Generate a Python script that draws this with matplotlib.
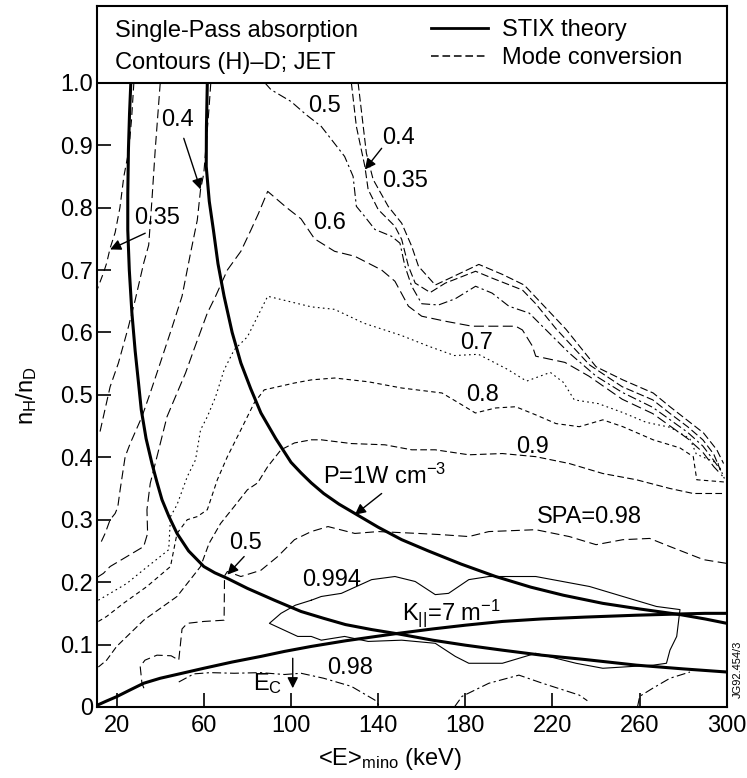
import matplotlib
matplotlib.use("Agg")
import matplotlib.pyplot as plt
from matplotlib.lines import Line2D
import numpy as np

plt.rcParams["font.family"] = ["Liberation Sans", "DejaVu Sans"]
plt.rcParams["mathtext.fontset"] = "custom"
plt.rcParams["mathtext.rm"] = "Liberation Sans"
plt.rcParams["mathtext.it"] = "Liberation Sans"

# STIX theory curves (keV, nH/nD)
stix_low = np.array([(26.5, 1.0), (25.9, 0.95), (25.4, 0.893), (25.1, 0.82), (25.1, 0.764),
                     (25.8, 0.70), (27.0, 0.631), (28.5, 0.57), (30.0, 0.52), (31.3, 0.476),
                     (33.5, 0.43), (36.2, 0.390), (38.5, 0.36), (40.8, 0.332), (44.0, 0.305),
                     (47.7, 0.278), (53.0, 0.250), (60.0, 0.225), (65.0, 0.215), (70.8, 0.206),
                     (80.0, 0.190), (92.4, 0.171), (104.6, 0.153), (115.0, 0.142), (125.0, 0.132),
                     (137.0, 0.124), (149.3, 0.117), (165.0, 0.107), (180.0, 0.099), (197.0, 0.091),
                     (215.0, 0.083), (235.0, 0.076), (258.5, 0.067), (280.0, 0.061), (300.0, 0.056)])
stix_power = np.array([(61.6, 1.0), (61.2, 0.93), (61.1, 0.866), (62.5, 0.81), (64.4, 0.764),
                       (66.5, 0.71), (69.3, 0.658), (73.0, 0.60), (77.0, 0.551), (81.5, 0.51),
                       (86.2, 0.471), (93.0, 0.43), (100.0, 0.392), (104.6, 0.375), (109.3, 0.359),
                       (115.0, 0.342), (122.0, 0.325), (129.3, 0.310), (140.0, 0.288), (150.8, 0.268),
                       (163.0, 0.250), (178.0, 0.229), (193.9, 0.209), (210.0, 0.192), (225.0, 0.179),
                       (243.1, 0.166), (260.0, 0.157), (278.5, 0.148), (290.0, 0.141), (300.0, 0.134)])
stix_kpar = np.array([(11.2, 0.003), (15.0, 0.009), (20.0, 0.0165), (26.0, 0.027), (32.4, 0.038),
                      (40.0, 0.046), (50.0, 0.054), (60.0, 0.062), (73.0, 0.072), (86.2, 0.081),
                      (97.0, 0.089), (109.3, 0.097), (125.0, 0.106), (137.0, 0.112), (149.3, 0.118),
                      (165.0, 0.125), (180.0, 0.131), (197.0, 0.137), (215.0, 0.141), (235.0, 0.144),
                      (258.5, 0.147), (278.5, 0.149), (290.0, 0.150), (300.0, 0.150)])

# mode conversion / single-pass absorption contours
spa_035_left = np.array([(27.9, 1.0), (26.8, 0.94), (25.5, 0.89), (23.3, 0.85), (21.5, 0.80),
                         (19.3, 0.76), (17.0, 0.735), (15.4, 0.711), (13.9, 0.695), (11.2, 0.67)])
spa_035_right = np.array([(130.8, 1.0), (134.6, 0.887), (137.7, 0.845), (144.6, 0.802), (150.8, 0.775),
                          (155.4, 0.738), (158.5, 0.706), (166.2, 0.676), (172.3, 0.686), (186.2, 0.709),
                          (197.0, 0.693), (207.0, 0.676), (215.4, 0.645), (226.2, 0.605), (240.0, 0.545),
                          (252.3, 0.524), (266.2, 0.503), (273.9, 0.481), (281.6, 0.460), (289.3, 0.439),
                          (295.4, 0.412), (298.5, 0.390)])
spa_04_left = np.array([(40.0, 1.0), (37.7, 0.893), (36.2, 0.813), (34.7, 0.740), (32.4, 0.711),
                        (28.5, 0.652), (25.4, 0.609), (20.8, 0.551), (17.0, 0.513), (13.9, 0.465),
                        (12.3, 0.44)])
spa_04_mid = np.array([(63.2, 1.0), (62.4, 0.96), (60.0, 0.855), (58.5, 0.829), (57.0, 0.78),
                       (53.9, 0.727), (50.0, 0.658), (45.5, 0.609), (40.0, 0.551), (35.4, 0.503),
                       (31.6, 0.465), (26.2, 0.422), (23.9, 0.401), (21.6, 0.348), (20.5, 0.320),
                       (19.3, 0.310), (17.0, 0.300), (14.7, 0.278), (12.3, 0.26)])
spa_04_right = np.array([(127.7, 1.0), (130.0, 0.930), (133.9, 0.866), (135.4, 0.829), (140.0, 0.797),
                         (147.7, 0.770), (150.8, 0.749), (153.9, 0.706), (157.0, 0.679), (163.9, 0.664),
                         (170.8, 0.679), (184.7, 0.698), (192.3, 0.687), (206.2, 0.668), (212.3, 0.646),
                         (221.6, 0.606), (237.0, 0.548), (252.0, 0.513), (266.0, 0.492), (274.0, 0.470),
                         (282.0, 0.449), (289.0, 0.428), (294.0, 0.405), (297.0, 0.380)])
spa_05_right = np.array([(88.0, 1.0), (90.8, 0.989), (100.0, 0.970), (106.9, 0.949), (113.9, 0.930),
                         (124.6, 0.882), (128.5, 0.850), (130.0, 0.802), (133.1, 0.789), (138.5, 0.765),
                         (146.2, 0.754), (150.0, 0.743), (152.3, 0.706), (155.4, 0.674), (160.0, 0.646),
                         (167.7, 0.644), (175.4, 0.654), (184.7, 0.674), (192.3, 0.663), (200.0, 0.642),
                         (209.3, 0.631), (218.5, 0.599), (227.7, 0.567), (240.0, 0.530), (252.0, 0.504),
                         (266.0, 0.480), (274.0, 0.460), (282.0, 0.440), (289.0, 0.418), (294.0, 0.395),
                         (298.0, 0.375)])
spa_06 = np.array([(11.2, 0.208), (13.9, 0.214), (17.0, 0.225), (24.7, 0.241), (32.4, 0.257),
                   (34.2, 0.278), (33.9, 0.316), (35.4, 0.358), (38.5, 0.401), (43.1, 0.465),
                   (47.7, 0.503), (51.6, 0.535), (55.4, 0.572), (61.6, 0.631), (65.4, 0.658),
                   (70.8, 0.700), (77.0, 0.730), (81.6, 0.764), (85.0, 0.790), (89.3, 0.826),
                   (98.0, 0.800), (104.6, 0.782), (110.8, 0.750), (120.0, 0.730), (129.3, 0.722),
                   (141.6, 0.700), (147.7, 0.682), (153.9, 0.642), (160.0, 0.626), (170.8, 0.618),
                   (183.1, 0.610), (203.1, 0.610), (206.2, 0.604), (210.8, 0.578), (212.3, 0.562),
                   (225.7, 0.552), (236.7, 0.530), (252.0, 0.493), (266.0, 0.470), (274.0, 0.450),
                   (282.0, 0.430), (289.0, 0.408), (294.0, 0.385), (298.0, 0.370)])
spa_07 = np.array([(11.6, 0.171), (17.0, 0.182), (24.7, 0.198), (32.4, 0.220), (40.0, 0.241),
                   (43.9, 0.252), (44.7, 0.305), (47.7, 0.324), (52.4, 0.369), (56.2, 0.396),
                   (58.5, 0.444), (61.6, 0.465), (65.4, 0.497), (69.3, 0.540), (73.9, 0.572),
                   (80.0, 0.593), (89.3, 0.658), (109.3, 0.641), (120.0, 0.637), (133.3, 0.615),
                   (150.8, 0.595), (163.1, 0.578), (175.0, 0.563), (186.0, 0.565), (199.3, 0.541),
                   (208.1, 0.522), (219.0, 0.536), (225.0, 0.520), (230.0, 0.492), (241.0, 0.486),
                   (252.0, 0.472), (263.0, 0.456), (274.0, 0.448), (283.0, 0.430), (286.0, 0.405),
                   (296.0, 0.390), (299.0, 0.365)])
spa_08 = np.array([(11.6, 0.137), (15.4, 0.145), (23.1, 0.166), (33.9, 0.193), (44.7, 0.225),
                   (47.7, 0.278), (52.4, 0.300), (57.0, 0.305), (61.6, 0.316), (66.2, 0.364),
                   (70.8, 0.401), (77.0, 0.444), (83.1, 0.487), (87.7, 0.508), (101.6, 0.519),
                   (109.3, 0.524), (120.0, 0.527), (135.4, 0.521), (150.8, 0.511), (169.3, 0.503),
                   (177.0, 0.487), (184.6, 0.471), (193.9, 0.479), (203.1, 0.481), (212.3, 0.468),
                   (221.6, 0.454), (232.3, 0.449), (243.1, 0.460), (252.3, 0.449), (266.2, 0.428),
                   (278.5, 0.415), (284.6, 0.401), (286.2, 0.364), (296.9, 0.361), (300.0, 0.360)])
spa_09 = np.array([(11.6, 0.064), (15.4, 0.075), (20.0, 0.097), (32.4, 0.139), (47.7, 0.177),
                   (58.5, 0.225), (62.4, 0.262), (67.7, 0.294), (73.9, 0.321), (80.0, 0.348),
                   (84.7, 0.359), (89.3, 0.385), (95.4, 0.412), (101.6, 0.423), (109.3, 0.428),
                   (113.9, 0.428), (127.7, 0.422), (143.1, 0.420), (155.4, 0.412), (166.2, 0.412),
                   (181.6, 0.404), (197.0, 0.406), (212.3, 0.401), (227.7, 0.390), (243.1, 0.374),
                   (258.5, 0.364), (273.9, 0.350), (284.6, 0.342), (298.5, 0.342)])
spa_098 = np.array([(32.5, 0.030), (31.6, 0.038), (30.8, 0.065), (33.0, 0.075), (38.5, 0.083),
                    (45.0, 0.082), (48.5, 0.075), (50.0, 0.125), (52.4, 0.134), (60.0, 0.137),
                    (69.3, 0.139), (69.5, 0.210), (70.8, 0.217), (77.0, 0.209), (86.2, 0.219),
                    (93.9, 0.241), (101.6, 0.268), (109.3, 0.281), (117.0, 0.289), (129.3, 0.278),
                    (140.0, 0.281), (158.5, 0.278), (169.3, 0.276), (181.6, 0.273), (190.8, 0.281),
                    (212.3, 0.284), (227.7, 0.273), (240.0, 0.260), (252.3, 0.268), (264.6, 0.270),
                    (273.9, 0.257), (289.3, 0.236), (300.0, 0.230)])
spa_098_low1 = np.array([(48.5, 0.040), (55.4, 0.053), (63.0, 0.055), (73.9, 0.054), (86.0, 0.055),
                         (97.0, 0.052), (104.6, 0.054), (115.0, 0.046), (127.7, 0.033), (138.5, 0.011),
                         (141.0, 0.0)])
spa_098_low2 = np.array([(175.0, 0.0), (178.5, 0.017), (190.8, 0.038), (204.6, 0.051), (215.4, 0.038),
                         (232.3, 0.019), (236.0, 0.010)])
spa_098_low3 = np.array([(259.0, 0.0), (260.0, 0.017), (266.0, 0.030), (273.9, 0.046), (283.1, 0.056)])
spa_0994 = np.array([(109.3, 0.171), (113.9, 0.177), (123.1, 0.182), (137.0, 0.204), (147.7, 0.209),
                     (157.0, 0.201), (166.2, 0.180), (172.3, 0.182), (181.6, 0.204), (190.8, 0.209),
                     (212.3, 0.209), (237.0, 0.193), (252.3, 0.177), (267.7, 0.161), (278.5, 0.156),
                     (277.0, 0.113), (273.9, 0.091), (272.3, 0.070), (266.2, 0.067), (243.1, 0.062),
                     (230.8, 0.070), (212.3, 0.086), (197.0, 0.070), (181.6, 0.070), (175.4, 0.081),
                     (166.2, 0.102), (150.8, 0.107), (135.4, 0.105), (124.6, 0.113), (113.9, 0.107),
                     (109.3, 0.113), (103.1, 0.113), (90.1, 0.134), (95.4, 0.150), (102.0, 0.163),
                     (109.3, 0.171)])

x_ticks = [20, 60, 100, 140, 180, 220, 260, 300]
y_ticks = [0, 0.1, 0.2, 0.3, 0.4, 0.5, 0.6, 0.7, 0.8, 0.9, 1.0]
y_tick_labels = ["0", "0.1", "0.2", "0.3", "0.4", "0.5", "0.6", "0.7", "0.8", "0.9", "1.0"]

fig = plt.figure(figsize=(7.47, 7.78), dpi=100)
ax = fig.add_axes([0.1305, 0.0913, 0.8425, 0.9010])

thin = 0.8
ax.plot(*spa_035_left.T, "k", lw=thin, ls=(0, (7, 4)))
ax.plot(*spa_035_right.T, "k", lw=thin, ls=(0, (7, 3)))
ax.plot(*spa_04_left.T, "k", lw=thin, ls=(0, (8, 4)))
ax.plot(*spa_04_mid.T, "k", lw=thin, ls=(0, (8, 4)))
ax.plot(*spa_04_right.T, "k", lw=thin, ls=(0, (7, 3)))
ax.plot(*spa_05_right.T, "k", lw=thin, ls=(0, (8, 3, 2, 3)))
ax.plot(*spa_06.T, "k", lw=thin, ls=(0, (9, 4)))
ax.plot(*spa_07.T, "k", lw=thin, ls=(0, (1.5, 3)))
ax.plot(*spa_08.T, "k", lw=thin, ls=(0, (4, 3)))
ax.plot(*spa_09.T, "k", lw=thin, ls=(0, (6, 3)))
ax.plot(*spa_098.T, "k", lw=thin, ls=(0, (8, 4)))
for seg in (spa_098_low1, spa_098_low2, spa_098_low3):
    ax.plot(*seg.T, "k", lw=thin, ls=(0, (8, 3, 2, 3)))
ax.plot(*spa_0994.T, "k", lw=0.8)

for curve in (stix_low, stix_power, stix_kpar):
    ax.plot(*curve.T, "k", lw=2.2, solid_capstyle="butt", solid_joinstyle="round")

ax.axhline(1.0, color="k", lw=1.5)

fs = 17
arrow = dict(arrowstyle="-|>", color="k", lw=1.0, mutation_scale=16, shrinkA=0, shrinkB=0)
ax.text(38.5, 0.783, "0.35", fontsize=fs, ha="center", va="center")
ax.annotate("", xy=(17.0, 0.733), xytext=(33.1, 0.759), arrowprops=arrow)
ax.text(47.7, 0.941, "0.4", fontsize=fs, ha="center", va="center")
ax.annotate("", xy=(58.5, 0.829), xytext=(50.8, 0.911), arrowprops=arrow)
ax.text(115.4, 0.962, "0.5", fontsize=fs, ha="center", va="center")
ax.text(149.3, 0.911, "0.4", fontsize=fs, ha="center", va="center")
ax.annotate("", xy=(133.9, 0.861), xytext=(141.6, 0.895), arrowprops=arrow)
ax.text(152.3, 0.842, "0.35", fontsize=fs, ha="center", va="center")
ax.text(117.7, 0.775, "0.6", fontsize=fs, ha="center", va="center")
ax.text(185.0, 0.583, "0.7", fontsize=fs, ha="center", va="center")
ax.text(187.7, 0.500, "0.8", fontsize=fs, ha="center", va="center")
ax.text(210.8, 0.417, "0.9", fontsize=fs, ha="center", va="center")
ax.text(143.1, 0.369, "P=1W cm$^{-3}$", fontsize=fs, ha="center", va="center")
ax.annotate("", xy=(129.3, 0.308), xytext=(141.6, 0.342), arrowprops=arrow)
ax.text(237.0, 0.305, "SPA=0.98", fontsize=fs, ha="center", va="center")
ax.text(118.5, 0.204, "0.994", fontsize=fs, ha="center", va="center")
ax.text(150.8, 0.150, "K$_{||}$=7 m$^{-1}$", fontsize=fs, ha="left", va="center")
ax.text(127.0, 0.062, "0.98", fontsize=fs, ha="center", va="center")
ax.text(79.3, 0.262, "0.5", fontsize=fs, ha="center", va="center")
ax.annotate("", xy=(70.8, 0.212), xytext=(78.5, 0.241), arrowprops=arrow)
ax.text(89.3, 0.038, "E$_\\mathrm{C}$", fontsize=fs, ha="center", va="center")
ax.annotate("", xy=(100.8, 0.030), xytext=(100.8, 0.078), arrowprops=arrow)

ax.text(19.3, 1.083, "Single-Pass absorption", fontsize=fs, ha="left", va="center")
ax.text(19.3, 1.032, "Contours (H)\u2013D; JET", fontsize=fs, ha="left", va="center")
handles = [Line2D([], [], color="k", lw=2.0), Line2D([], [], color="k", lw=1.1, ls=(0, (5, 2.5)))]
ax.legend(handles, ["STIX theory", "Mode conversion"], loc="upper left",
          bbox_to_anchor=(0.515, 0.995), frameon=False, fontsize=fs, handlelength=2.4,
          handletextpad=0.6, labelspacing=0.25, borderaxespad=0)

ax.set_xlim(11.2, 300)
ax.set_ylim(0, 1.123)
ax.set_xticks(x_ticks)
ax.set_yticks(y_ticks)
ax.set_yticklabels(y_tick_labels)
ax.tick_params(direction="in", length=10, width=1.2, labelsize=fs)
ax.tick_params(axis="y", pad=3)
ax.tick_params(axis="x", pad=6)
for s in ax.spines.values():
    s.set_linewidth(1.5)

ax.set_xlabel("<E>$_\\mathrm{mino}$ (keV)", fontsize=fs)
ax.xaxis.set_label_coords(0.465, -0.055)
ax.set_ylabel("n$_\\mathrm{H}$/n$_\\mathrm{D}$", fontsize=fs)
ax.yaxis.set_label_coords(-0.093, 0.445)

fig.text(0.987, 0.14, "JG92.454/3", rotation=90, fontsize=8, ha="center", va="center")

fig.savefig("out.png", dpi=100)
